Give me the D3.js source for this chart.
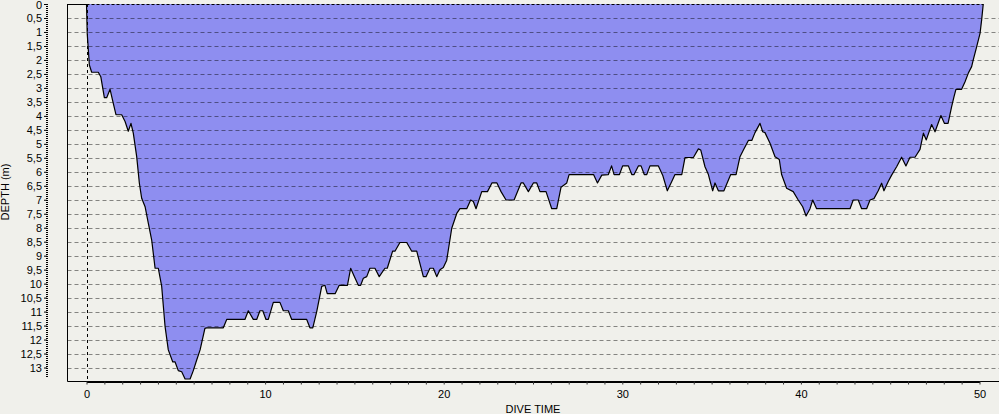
<!DOCTYPE html>
<html>
<head>
<meta charset="utf-8">
<script src="https://cdn.jsdelivr.net/npm/d3@7"></script>
<style>
  body { margin: 0; background: #f0f0eb; }
  svg { display: block; }
  text { font-family: "Liberation Sans", Arial, sans-serif; font-size: 11px; fill: #000; }
</style>
</head>
<body>
<div id="chart"></div>
<script>
// dive profile, time in minutes, depth in metres
var diveTime = [0, 0.04, 0.16, 0.29, 0.66, 0.80, 1.00, 1.13, 1.32, 1.50, 1.65, 1.97, 2.16, 2.34, 2.49, 2.62,
  2.81, 2.96, 3.09, 3.28, 3.46, 3.65, 3.84, 4.02, 4.21, 4.40, 4.58, 4.83, 4.96, 5.14, 5.33, 5.52, 5.80,
  5.98, 6.17, 6.36, 6.63, 6.73, 7.66, 7.85, 8.87, 9.06, 9.34, 9.53, 9.71, 9.87, 10.05, 10.18, 10.46,
  10.83, 11.02, 11.30, 11.49, 12.33, 12.51, 12.67, 12.89, 13.17, 13.35, 13.48, 13.92, 14.15, 14.61,
  14.79, 15.04, 15.22, 15.35, 15.50, 15.69, 15.87, 16.15, 16.39, 16.71, 16.84, 17.14, 17.27, 17.55,
  17.93, 18.21, 18.49, 18.86, 19.01, 19.23, 19.42, 19.61, 19.79, 19.98, 20.17, 20.45, 20.73, 20.91,
  21.29, 21.51, 21.66, 21.81, 22.13, 22.45, 22.70, 22.98, 23.21, 23.49, 23.94, 24.33, 24.46, 24.74,
  25.02, 25.21, 25.39, 25.73, 26.05, 26.33, 26.57, 26.89, 27.02, 28.39, 28.61, 28.85, 29.22, 29.40,
  29.54, 29.84, 30.02, 30.34, 30.53, 30.66, 30.90, 31.05, 31.23, 31.37, 31.55, 32.02, 32.26, 32.52,
  32.77, 32.95, 33.33, 33.51, 33.98, 34.26, 34.39, 34.63, 34.82, 35.06, 35.19, 35.38, 35.69, 36.07,
  36.37, 36.59, 36.78, 37.06, 37.25, 37.43, 37.71, 37.86, 37.99, 38.27, 38.55, 38.79, 38.92, 39.20,
  39.57, 39.85, 40.10, 40.29, 40.51, 40.66, 40.88, 42.75, 42.93, 43.21, 43.40, 43.68, 43.87, 44.09,
  44.33, 44.52, 44.65, 44.89, 45.08, 45.36, 45.64, 45.88, 46.11, 46.39, 46.67, 46.86, 47.02, 47.32,
  47.51, 47.84, 48.04, 48.24, 48.44, 48.57, 48.68, 49.00, 49.19, 49.37, 49.56, 49.65, 49.84, 50.03,
  50.12, 50.21];

var depth = [0, 1.05, 2.18, 2.44, 2.44, 2.60, 3.35, 3.35, 3.05, 3.55, 3.96, 3.96, 4.20, 4.55, 4.27, 4.62,
  5.46, 6.41, 6.95, 7.25, 7.84, 8.44, 9.45, 9.45, 10.10, 11.54, 12.37, 12.80, 12.80, 13.11, 13.15, 13.41, 13.41,
  13.11, 12.73, 12.37, 11.60, 11.58, 11.58, 11.28, 11.28, 10.97, 11.28, 11.28, 10.97, 10.97, 11.28, 11.28, 10.67,
  10.67, 10.97, 10.97, 11.28, 11.28, 11.58, 11.58, 11.00, 10.10, 10.06, 10.36, 10.36, 10.06, 10.06,
  9.45, 9.81, 10.06, 10.06, 9.81, 9.75, 9.45, 9.45, 9.75, 9.45, 9.45, 8.84, 8.84, 8.53,
  8.53, 8.84, 8.84, 9.75, 9.75, 9.45, 9.45, 9.75, 9.50, 9.42, 9.16, 8.02, 7.49, 7.32,
  7.32, 7.01, 7.06, 7.32, 6.71, 6.71, 6.40, 6.40, 6.71, 7.01, 7.01, 6.40, 6.40, 6.71,
  6.40, 6.40, 6.71, 6.71, 7.32, 7.32, 6.55, 6.40, 6.10, 6.10, 6.40, 6.12, 6.10, 5.79,
  6.10, 6.10, 5.79, 5.79, 6.10, 6.10, 5.79, 5.79, 6.10, 6.10, 5.79, 5.79, 6.12, 6.68,
  6.35, 6.10, 6.10, 5.49, 5.49, 5.18, 5.22, 5.82, 6.10, 6.68, 6.40, 6.68, 6.68, 6.10,
  6.10, 5.46, 5.22, 4.88, 4.88, 4.60, 4.27, 4.57, 4.60, 4.98, 5.46, 5.56, 6.10, 6.59,
  6.71, 7.01, 7.25, 7.58, 7.32, 7.01, 7.32, 7.32, 7.01, 7.01, 7.32, 7.32, 7.01, 6.96,
  6.68, 6.41, 6.68, 6.35, 6.12, 5.82, 5.48, 5.79, 5.48, 5.48, 5.20, 4.62, 4.86, 4.31,
  4.57, 3.99, 4.27, 4.27, 3.67, 3.32, 3.05, 3.05, 2.78, 2.48, 2.24, 2.00, 1.53, 1.05,
  0.57, 0];

var depthTicks = d3.range(0, 13.01, 0.5);
var timeTicks = d3.range(0, 51, 1);
var timeLabels = [0, 10, 20, 30, 40, 50];

var width = 999, height = 414;
var frameLeft = 67.5, frameTop = 4, frameBottom = 381.5;

var svg = d3.select("#chart").append("svg")
  .attr("width", width)
  .attr("height", height);

var x = d3.scaleLinear().domain([0, 50]).range([86.5, 979.5]);
var y = d3.scaleLinear().domain([0, 13.5]).range([frameTop, frameBottom]);

var points = diveTime.map(function(t, i) { return {t: t, d: depth[i]}; });

// filled area between surface and profile
var area = d3.area()
  .x(function(p) { return x(p.t); })
  .y0(y(0))
  .y1(function(p) { return y(p.d); });

svg.append("path")
  .datum(points)
  .attr("d", area)
  .attr("fill", "#8e8ef0");

// horizontal dashed grid every 0.5 m
svg.append("g").selectAll("line")
  .data(depthTicks.slice(1))
  .enter().append("line")
  .attr("x1", frameLeft)
  .attr("x2", width)
  .attr("y1", function(d) { return Math.round(y(d)) + 0.5; })
  .attr("y2", function(d) { return Math.round(y(d)) + 0.5; })
  .attr("stroke", "#000")
  .attr("stroke-opacity", 0.45)
  .attr("stroke-dasharray", "4,3");

// profile line
var line = d3.line()
  .x(function(p) { return x(p.t); })
  .y(function(p) { return y(p.d); });

svg.append("path")
  .datum(points)
  .attr("d", line)
  .attr("fill", "none")
  .attr("stroke", "#000")
  .attr("stroke-width", 1.2)
  .attr("stroke-linejoin", "round");

// zero time marker
svg.append("line")
  .attr("x1", Math.round(x(0)) + 0.5).attr("x2", Math.round(x(0)) + 0.5)
  .attr("y1", frameTop).attr("y2", frameBottom)
  .attr("stroke", "#000")
  .attr("stroke-dasharray", "3,3");

// frame: top, left, bottom
svg.append("line")
  .attr("x1", frameLeft).attr("x2", x(0))
  .attr("y1", frameTop + 0.5).attr("y2", frameTop + 0.5)
  .attr("stroke", "#000");
svg.append("line")
  .attr("x1", x(0)).attr("x2", x(50.21))
  .attr("y1", frameTop + 0.5).attr("y2", frameTop + 0.5)
  .attr("stroke", "#000")
  .attr("stroke-dasharray", "3,2");
svg.append("line")
  .attr("x1", frameLeft).attr("x2", frameLeft)
  .attr("y1", frameTop).attr("y2", frameBottom)
  .attr("stroke", "#000");
svg.append("line")
  .attr("x1", frameLeft).attr("x2", width)
  .attr("y1", frameBottom).attr("y2", frameBottom)
  .attr("stroke", "#000");

// x axis
var xAxis = d3.axisBottom(x)
  .tickValues(timeTicks)
  .tickSize(3)
  .tickSizeOuter(0)
  .tickFormat(function(d) { return timeLabels.indexOf(d) >= 0 ? d : ""; });

var gx = svg.append("g")
  .attr("transform", "translate(0," + frameBottom + ")")
  .call(xAxis);
gx.select(".domain").attr("stroke-width", 2);
gx.selectAll(".tick line").attr("stroke", "#333");
gx.selectAll(".tick text")
  .attr("y", 9)
  .style("font-family", "Liberation Sans, Arial, sans-serif")
  .style("font-size", "11px");

// y axis with comma decimals
var yAxis = d3.axisLeft(y)
  .tickValues(depthTicks)
  .tickSize(3)
  .tickSizeOuter(0)
  .tickFormat(function(d) { return String(d).replace(".", ","); });

var gy = svg.append("g")
  .attr("transform", "translate(47,0)")
  .call(yAxis);
gy.select(".domain").remove();
gy.selectAll(".tick text")
  .attr("x", -5)
  .attr("dy", function(d) { return d === 0 ? "0.45em" : "0.32em"; })
  .style("font-family", "Liberation Sans, Arial, sans-serif")
  .style("font-size", "11px");

svg.append("line")
  .attr("x1", 47).attr("x2", 47)
  .attr("y1", frameTop).attr("y2", 378)
  .attr("stroke", "#000")
  .attr("stroke-width", 2)
  .attr("stroke-dasharray", "1,1");

// axis titles
svg.append("text")
  .attr("x", 533)
  .attr("y", 413)
  .attr("text-anchor", "middle")
  .text("DIVE TIME");

svg.append("text")
  .attr("transform", "translate(9,192) rotate(-90)")
  .attr("text-anchor", "middle")
  .text("DEPTH (m)");
</script>
</body>
</html>
